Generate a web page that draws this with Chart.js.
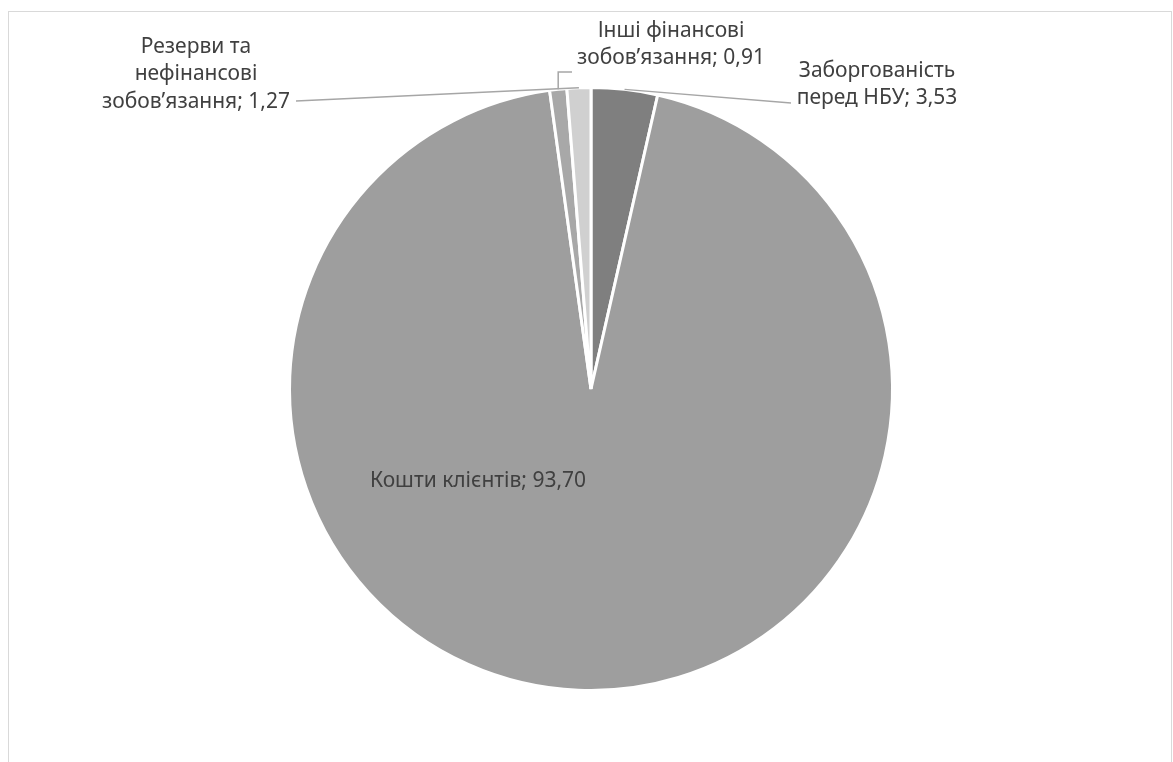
<!DOCTYPE html>
<html>
<head>
<meta charset="utf-8">
<script src="https://cdn.jsdelivr.net/npm/chart.js@4"></script>
<style>
    body { margin: 0; background: #ffffff; overflow: hidden; }
    #wrap { position: relative; width: 1173px; height: 762px; }
    #frame { position: absolute; left: 8px; top: 11px; width: 1162px; height: 800px; border: 1px solid #d9d9d9; }
    canvas { position: absolute; left: 0; top: 0; }
</style>
</head>
<body>
<div id="wrap">
    <div id="frame"></div>
    <canvas id="chart1" width="1173" height="762"></canvas>
</div>
<script>
// Structure of liabilities, %
var categories = ['Заборгованість перед НБУ', 'Кошти клієнтів', 'Інші фінансові зобов’язання', 'Резерви та нефінансові зобов’язання'];
var values = [3.53, 93.70, 0.91, 1.27];
var valueLabels = ['3,53', '93,70', '0,91', '1,27'];
var sliceColors = ['#7f7f7f', '#9e9e9e', '#a8a8a8', '#d0d0d0'];

// label text lines and where Excel placed them (layout only)
var labelLayout = [
    { lines: ['Заборгованість', 'перед НБУ; '], x: 877, y: 71, leaderTo: [791, 103], leaderMode: 'straight' },
    { lines: ['Кошти клієнтів; '], x: 478, y: 481, leaderTo: null },
    { lines: ['Інші фінансові', 'зобов’язання; '], x: 671, y: 31, leaderTo: [572, 72], leaderMode: 'elbow' },
    { lines: ['Резерви та', 'нефінансові', 'зобов’язання; '], x: 196, y: 47, leaderTo: [296, 101], leaderMode: 'straight' }
];

var labelPlugin = {
    id: 'excelLabels',
    afterDraw: function (chart) {
        var ctx = chart.ctx;
        var arcs = chart.getDatasetMeta(0).data;
        ctx.save();
        ctx.font = '21px "Noto Sans"';
        ctx.fillStyle = '#404040';
        ctx.textAlign = 'center';
        ctx.textBaseline = 'middle';
        var lineH = 27.5;

        arcs.forEach(function (arc, i) {
            var lay = labelLayout[i];
            var p = arc.getProps(['x', 'y', 'startAngle', 'endAngle', 'outerRadius']);
            if (lay.leaderTo) {
                var mid = (p.startAngle + p.endAngle) / 2;
                var sx = p.x + Math.cos(mid) * p.outerRadius;
                var sy = p.y + Math.sin(mid) * p.outerRadius;
                ctx.strokeStyle = '#a6a6a6';
                ctx.lineWidth = 1.5;
                ctx.beginPath();
                ctx.moveTo(sx, sy);
                if (lay.leaderMode === 'elbow') {
                    ctx.lineTo(sx, lay.leaderTo[1]);
                }
                ctx.lineTo(lay.leaderTo[0], lay.leaderTo[1]);
                ctx.stroke();
            }
            lay.lines.forEach(function (txt, j) {
                if (j === lay.lines.length - 1) txt = txt + valueLabels[i];
                ctx.fillText(txt, lay.x, lay.y + j * lineH);
            });
        });
        ctx.restore();
    }
};

var ctx = document.getElementById('chart1').getContext('2d');
var myChart = new Chart(ctx, {
    type: 'pie',
    data: {
        labels: categories,
        datasets: [{
            data: values,
            backgroundColor: sliceColors,
            borderColor: '#ffffff',
            borderWidth: 3
        }]
    },
    options: {
        responsive: false,
        animation: false,
        layout: {
            padding: { top: 86, bottom: 70, left: 9, right: 0 }
        },
        plugins: {
            legend: { display: false },
            tooltip: { enabled: false }
        }
    },
    plugins: [labelPlugin]
});
</script>
</body>
</html>
